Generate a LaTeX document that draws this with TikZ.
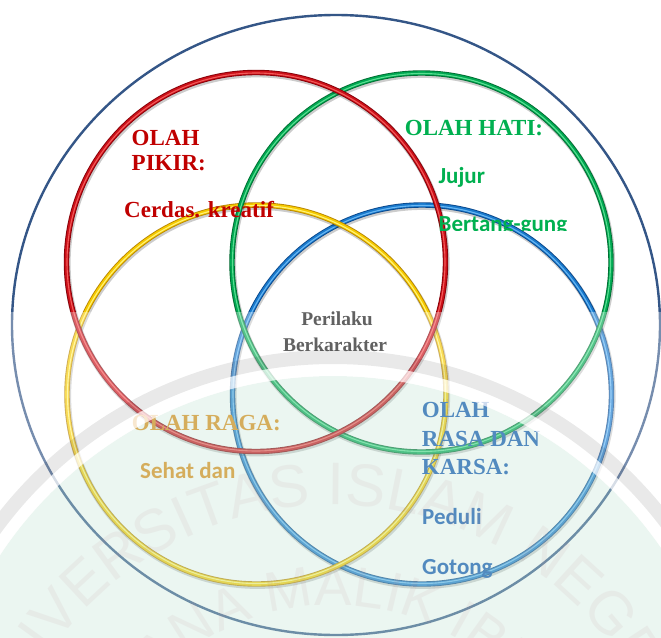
\documentclass[tikz,border=0pt]{standalone}
\usepackage{fontspec}
\setmainfont{Liberation Serif}
\newfontfamily\calib{Carlito}
\newfontfamily\wmfont{Liberation Sans}
\usetikzlibrary{decorations.text}

\definecolor{outerblue}{RGB}{52,86,135}
\definecolor{redmain}{RGB}{204,16,24}
\definecolor{reddark}{RGB}{135,0,8}
\definecolor{redlight}{RGB}{242,90,90}
\definecolor{greenmain}{RGB}{0,168,82}
\definecolor{greendark}{RGB}{0,110,50}
\definecolor{greenlight}{RGB}{90,222,145}
\definecolor{yellowmain}{RGB}{246,202,0}
\definecolor{yellowdark}{RGB}{185,135,0}
\definecolor{yellowlight}{RGB}{255,242,120}
\definecolor{bluemain}{RGB}{25,122,205}
\definecolor{bluedark}{RGB}{10,72,140}
\definecolor{bluelight}{RGB}{105,182,242}
\definecolor{pikir}{RGB}{192,0,0}
\definecolor{hati}{RGB}{0,176,80}
\definecolor{raga}{RGB}{222,138,16}
\definecolor{rasa}{RGB}{10,80,175}
\definecolor{wmtint}{RGB}{0,150,80}
\definecolor{wmletter}{RGB}{190,140,150}

% one glossy hoop: soft shadow, dark rim, body, highlight
\newcommand\hoop[3]{%
  \draw[line width=6.6pt, black, opacity=0.2] (#1+0.8,#2+1.6) circle[radius=189.5];
  \draw[line width=5.4pt, #3dark] (#1,#2) circle[radius=189.5];
  \draw[line width=3.6pt, #3main] (#1,#2) circle[radius=189.5];
  \draw[line width=1.1pt, #3light] (#1,#2) circle[radius=189.0];
}

\tikzset{
  serifhead/.style={anchor=base west, inner sep=0pt,
    font=\bfseries\fontsize{23}{23}\selectfont},
  sansitem/.style={anchor=base west, inner sep=0pt,
    font=\calib\bfseries\fontsize{23}{23}\selectfont},
  centrelabel/.style={anchor=base, inner sep=0pt,
    font=\bfseries\fontsize{19.5}{19.5}\selectfont, text=black!92}
}

\begin{document}
\begin{tikzpicture}[x=1pt,y=-1pt]
\useasboundingbox (0,0) rectangle (661,637);
\clip (0,0) rectangle (661,637);
\fill[white] (0,0) rectangle (661,637);

% enclosing outline
\draw[outerblue, line width=2.4pt] (336,325) ellipse[x radius=324, y radius=310];

% the four hoops
\hoop{422}{394.5}{blue}
\hoop{256.5}{394.5}{yellow}
\hoop{421.5}{262.5}{green}
\hoop{256}{262}{red}

% labels
\node[serifhead, text=pikir] (pikirA) at (131.5,145) {OLAH};
\node[serifhead, text=pikir] (pikirB) at (131.5,170.7) {PIKIR:};
\node[serifhead, text=pikir] (cerdas) at (124,217) {Cerdas. kreatif};

\node[serifhead, text=hati] (hatiA) at (404.7,135) {OLAH HATI:};
\node[sansitem, text=hati] (jujur) at (438.4,183) {Jujur};
\begin{scope}
  \clip (420,190) rectangle (600,230);
  \node[sansitem, text=hati] (bertang) at (438.4,231) {Bertang-gung};
\end{scope}

\node[centrelabel] (perilaku) at (337,325.7) {Perilaku};
\node[centrelabel] (berkarakter) at (335,351) {Berkarakter};

\node[serifhead, text=raga] (ragaA) at (131.7,430.7) {OLAH RAGA:};
\node[sansitem, text=raga] (sehat) at (140,478) {Sehat dan};

\node[serifhead, text=rasa] (rasaA) at (421.7,417) {OLAH};
\node[serifhead, text=rasa] (rasaB) at (421.7,446) {RASA DAN};
\node[serifhead, text=rasa] (rasaC) at (421.7,474) {KARSA:};
\node[sansitem, text=rasa] (peduli) at (422,524.5) {Peduli};
\node[sansitem, text=rasa] (gotong) at (422,574) {Gotong};

% faded lower half with the seal in the background
\begin{scope}
  \clip (0,312) rectangle (661,637);
  \fill[white, opacity=0.33] (0,312) rectangle (661,637);
  \fill[wmtint, opacity=0.08] (333,775) circle[radius=399];
  \draw[white, opacity=0.7, line width=12pt] (333,775) circle[radius=405];
  \draw[black, opacity=0.085, line width=14pt] (333,775) circle[radius=418];
  \begin{scope}[opacity=0.1]
    \path[decorate, decoration={text along path, text align=center,
        text color=wmletter,
        text={|\wmfont\fontsize{60}{60}\selectfont|UNIVERSITAS ISLAM NEGERI}}]
      (333-345,850) arc[start angle=180, end angle=360, radius=345];
    \path[decorate, decoration={text along path, text align=center,
        text color=wmletter,
        text={|\wmfont\fontsize{56}{56}\selectfont|MAULANA MALIK IBRAHIM}}]
      (333-245,850) arc[start angle=180, end angle=360, radius=245];
  \end{scope}
\end{scope}
\end{tikzpicture}
\end{document}
